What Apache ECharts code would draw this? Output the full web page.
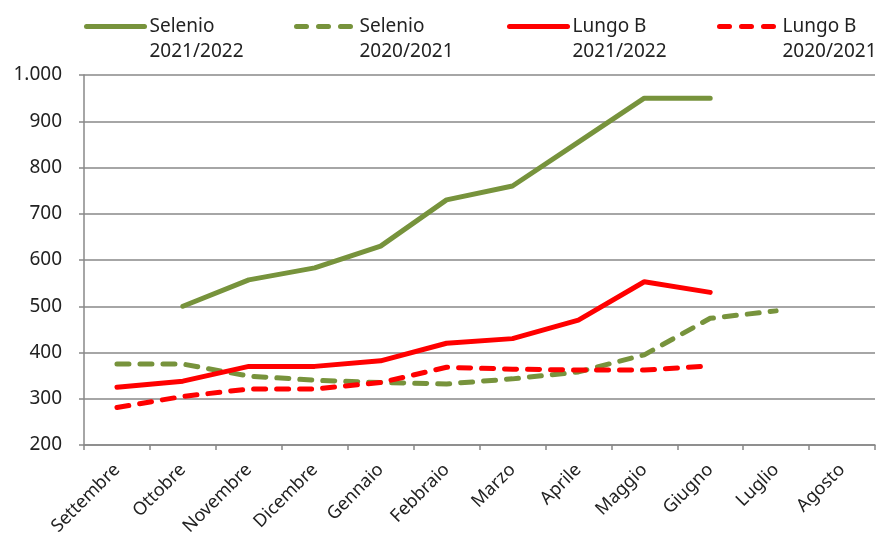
<!DOCTYPE html>
<html>
<head>
<meta charset="utf-8">
<script src="https://cdn.jsdelivr.net/npm/echarts@6/dist/echarts.min.js"></script>
<style>
  html, body { margin: 0; padding: 0; background: #fff; }
  #chart_container { width: 879px; height: 535px; }
</style>
</head>
<body>
<div id="chart_container"></div>
<script>
var months = ['Settembre', 'Ottobre', 'Novembre', 'Dicembre', 'Gennaio', 'Febbraio',
  'Marzo', 'Aprile', 'Maggio', 'Giugno', 'Luglio', 'Agosto'];
var selenio_2122 = [null, 500, 557, 583, 630, 730, 760, 855, 950, 950, null, null];
var selenio_2021 = [375, 375, 349, 340, 335, 332, 343, 358, 395, 474, 490, null];
var lungoB_2122 = [325, 338, 370, 370, 382, 420, 430, 470, 553, 530, null, null];
var lungoB_2021 = [281, 305, 321, 321, 335, 368, 364, 362, 362, 371, null, null];
var series_names = ['Selenio 2021/2022', 'Selenio 2020/2021', 'Lungo B 2021/2022', 'Lungo B 2020/2021'];

var GREEN = '#77933C';
var RED = '#FF0000';
var FONT = 'Noto Sans';

var chart = echarts.init(document.getElementById('chart_container'));

function makeLegend(name, left, color, dashed) {
  return {
    data: [name],
    left: left,
    top: -16,
    itemWidth: 58,
    itemHeight: 2,
    itemGap: 0,
    itemStyle: { opacity: 0 },
    lineStyle: {
      color: color,
      width: 5,
      type: dashed ? [10, 12] : 'solid',
      cap: 'round'
    },
    formatter: function (n) {
      // blank first line keeps the icon level with the first text line
      return '\n' + n.replace(/ (\d{4}\/)/, '\n$1');
    },
    textStyle: {
      fontFamily: FONT,
      fontSize: 19,
      lineHeight: 25,
      color: '#222'
    }
  };
}

function makeSeries(name, values, color, dashed) {
  return {
    name: name,
    type: 'line',
    data: values,
    symbol: 'none',
    connectNulls: false,
    lineStyle: {
      color: color,
      width: 5,
      type: dashed ? [12, 11] : 'solid',
      cap: 'round'
    },
    itemStyle: { color: color }
  };
}

chart.setOption({
  animation: false,
  backgroundColor: '#fff',
  legend: [
    makeLegend(series_names[0], 79, GREEN, false),
    makeLegend(series_names[1], 289, GREEN, true),
    makeLegend(series_names[2], 502, RED, false),
    makeLegend(series_names[3], 712, RED, true)
  ],
  grid: { left: 84, right: 4, top: 75, bottom: 90, containLabel: false, outerBoundsMode: 'none' },
  xAxis: {
    type: 'category',
    data: months,
    boundaryGap: true,
    axisLine: { lineStyle: { color: '#888', width: 1.5 } },
    axisTick: { show: true, length: 5, lineStyle: { color: '#888', width: 1.5 } },
    axisLabel: {
      rotate: 45,
      interval: 0,
      margin: 22,
      fontFamily: FONT,
      fontSize: 18,
      color: '#222'
    }
  },
  yAxis: {
    type: 'value',
    min: 200,
    max: 1000,
    interval: 100,
    axisLine: { show: true, lineStyle: { color: '#888', width: 1.5 } },
    axisTick: { show: true, length: 5, lineStyle: { color: '#888', width: 1.5 } },
    splitLine: { lineStyle: { color: '#888', width: 1.5 } },
    axisLabel: {
      margin: 22,
      fontFamily: FONT,
      fontSize: 19,
      color: '#222',
      formatter: function (v) {
        return v >= 1000 ? String(v).replace(/(\d)(\d{3})$/, '$1.$2') : String(v);
      }
    }
  },
  series: [
    makeSeries(series_names[0], selenio_2122, GREEN, false),
    makeSeries(series_names[1], selenio_2021, GREEN, true),
    makeSeries(series_names[2], lungoB_2122, RED, false),
    makeSeries(series_names[3], lungoB_2021, RED, true)
  ]
});
</script>
</body>
</html>
